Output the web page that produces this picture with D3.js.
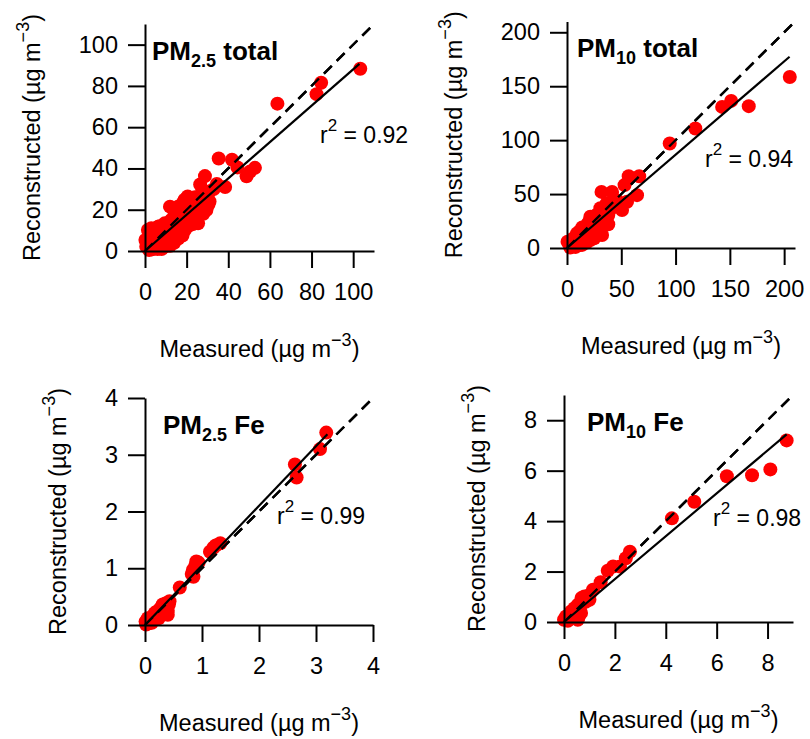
<!DOCTYPE html>
<html>
<head>
<meta charset="utf-8">
<script src="https://cdn.jsdelivr.net/npm/d3@7"></script>
<style>
	body { margin: 0; background: #fff; }
</style>
</head>
<body>
<svg id="chart" width="810" height="739"></svg>
<script>
/*
 *  Measured vs reconstructed concentrations, four scatter panels.
 */

// [measured, reconstructed] pairs
const pm25Total = [
	[103.4, 88.3], [84.6, 81.5], [82.4, 76.0], [63.6, 71.4],
	[35.4, 44.8], [41.8, 44.2], [44.4, 40.5], [52.8, 40.3], [48.8, 36.2], [50.5, 38.5],
	[28.8, 36.3], [26.5, 32.2], [34.5, 32.5], [38.5, 31.0], [31.0, 28.8],
	[20.5, 26.4], [19.0, 24.8], [28.6, 23.0], [29.5, 19.9], [27.0, 21.5],
	[15.8, 21.4], [14.2, 19.9], [22.3, 19.9], [23.9, 16.7], [17.5, 16.7],
	[12.6, 15.0], [9.5, 13.4], [6.3, 11.8], [1.4, 10.2], [3.0, 6.9], [0.2, 5.3], [0.6, 2.1],
	[9.5, 2.1], [7.8, 3.7], [15.9, 6.9], [19.1, 10.2], [25.5, 13.4], [22.3, 15.0], [12.6, 10.2],
	[11.1, 8.6], [6.3, 6.9], [4.7, 5.3], [2.0, 1.5], [3.5, 3.0], [5.0, 4.0], [6.5, 5.0],
	[8.0, 6.5], [10.0, 8.0], [11.5, 10.5], [13.5, 12.0], [16.0, 14.0], [17.0, 12.5],
	[18.5, 15.5], [20.0, 18.0], [21.5, 17.0], [24.0, 20.5], [25.5, 22.5], [26.5, 24.5],
	[10.5, 12.0], [8.5, 10.5], [4.0, 8.5], [2.5, 9.0], [1.0, 4.0], [13.0, 5.5], [11.0, 4.0],
	[6.0, 1.0], [3.5, 0.8], [14.5, 9.0], [17.5, 8.5], [20.5, 12.0], [16.5, 18.5], [18.0, 21.0],
	[23.0, 23.5], [30.5, 22.5], [29.0, 26.5], [27.0, 27.5], [21.0, 22.0], [7.0, 9.0],
	[5.5, 2.5], [9.0, 5.0], [12.0, 21.5], [14.0, 17.0], [16.0, 20.0], [18.0, 23.0], [19.0, 19.0],
	[22.0, 25.0], [24.0, 26.0], [20.0, 14.0], [23.0, 13.0], [25.0, 17.0], [28.0, 18.0],
	[26.0, 20.0], [31.0, 24.0], [33.0, 30.0], [11.0, 13.5], [9.0, 11.0], [7.0, 12.0], [5.0, 10.0],
	[3.0, 11.0], [8.0, 1.0], [12.0, 2.5], [14.0, 4.0], [16.0, 6.0], [18.0, 7.5], [4.0, 2.0], [2.0, 0.5]
];
const pm10Total = [
	[205.2, 158.6], [167.4, 131.5], [151.2, 136.4], [142.9, 130.8], [118.2, 110.8], [94.6, 96.9],
	[66.5, 66.5], [56.8, 66.5], [53.0, 58.3], [64.5, 49.0], [55.3, 42.9], [50.7, 35.2],
	[31.8, 52.0], [41.5, 52.0], [36.5, 41.4], [30.7, 36.8], [27.6, 30.6], [21.5, 29.0], [36.9, 29.0],
	[33.7, 21.3], [32.3, 12.0], [18.4, 21.3], [15.3, 16.7], [9.2, 13.6], [6.1, 9.0], [0.5, 5.8],
	[12.3, 2.8], [21.5, 7.4], [24.5, 13.6], [27.6, 16.7], [3.0, 2.5], [5.0, 4.0], [8.0, 6.0],
	[11.0, 9.0], [13.0, 11.0], [16.0, 12.0], [18.0, 14.5], [20.0, 17.0], [22.0, 19.0], [24.0, 22.0],
	[26.0, 24.0], [28.0, 26.5], [25.0, 28.0], [23.0, 25.5], [19.0, 10.5], [15.0, 6.0], [10.0, 3.5],
	[7.0, 1.5], [29.5, 19.5], [38.0, 30.5], [34.0, 33.5], [42.0, 38.0], [12.0, 15.5], [17.0, 19.5],
	[4.0, 7.0], [14.0, 19.0], [20.0, 24.0], [22.0, 27.0], [26.0, 30.0], [30.0, 32.0], [32.0, 26.0],
	[35.0, 24.0], [38.0, 22.0], [28.0, 12.0], [25.0, 9.0], [18.0, 5.0], [14.0, 3.0], [8.0, 1.0],
	[3.0, 0.5], [40.0, 36.0], [44.0, 40.0], [46.0, 44.0], [35.0, 38.0]
];
const pm25Fe = [
	[3.18, 3.39], [3.07, 3.10], [2.63, 2.83], [2.66, 2.60], [1.32, 1.44], [1.20, 1.36], [1.14, 1.29],
	[1.24, 1.40], [0.94, 1.10], [0.88, 1.04], [0.90, 1.12], [0.84, 0.97], [0.82, 0.90], [0.85, 0.85],
	[0.61, 0.66], [0.43, 0.42], [0.40, 0.25], [0.38, 0.32], [0.29, 0.32], [0.33, 0.23], [0.24, 0.12],
	[0.17, 0.21], [0.05, 0.12], [0.01, 0.06], [0.10, 0.08], [0.14, 0.15], [0.21, 0.24], [0.26, 0.28],
	[0.31, 0.36], [0.36, 0.38], [0.42, 0.36], [0.02, 0.01], [0.07, 0.03], [0.19, 0.16], [0.34, 0.30],
	[0.28, 0.20], [0.40, 0.18], [0.12, 0.04]
];
const pm10Fe = [
	[8.75, 7.20], [8.11, 6.05], [7.39, 5.82], [6.40, 5.78], [5.12, 4.77], [4.24, 4.11],
	[2.59, 2.79], [2.43, 2.53], [2.20, 2.20], [1.93, 2.20], [1.72, 2.03], [1.44, 1.58], [1.14, 1.28],
	[1.01, 1.08], [0.69, 0.95], [0.80, 1.01], [0.54, 0.68], [0.41, 0.55], [0.28, 0.42], [0.08, 0.22],
	[0.00, 0.09], [0.54, 0.09], [0.67, 0.36], [1.00, 0.88], [0.55, 0.15], [0.20, 0.15], [0.35, 0.30],
	[0.45, 0.35], [0.62, 0.55], [0.15, 0.05], [0.85, 0.80], [0.60, 0.25]
];

const panelData = [pm25Total, pm10Total, pm25Fe, pm10Fe];
const titleSize = ['2.5', '10', '2.5', '10'];
const titleSpecies = [' total', ' total', ' Fe', ' Fe'];
const rSquared = ['0.92', '0.94', '0.99', '0.98'];
const axisMax = [110, 210, 4, 9];
const tickValues = [
	[0, 20, 40, 60, 80, 100],
	[0, 50, 100, 150, 200],
	[0, 1, 2, 3, 4],
	[0, 2, 4, 6, 8]
];
// least squares line: slope and last measured value
const fitSlope = [0.88, 0.865, 1.05, 0.85];
const fitEnd = [103, 205, 3.2, 8.75];

// pixel layout of each panel (axis box, title and r² anchors)
const LAYOUT = [
	{ x0: 145, x1: 374, y0: 251, y1: 24,   title: [152, 60],  r2: [320, 143] },
	{ x0: 567, x1: 795, y0: 248, y1: 21.5, title: [577, 57],  r2: [705, 167] },
	{ x0: 145, x1: 373, y0: 625, y1: 398,  title: [163, 434], r2: [277, 524] },
	{ x0: 564, x1: 793, y0: 622, y1: 395,  title: [587, 431], r2: [713, 526] }
];

const FONT = '"Liberation Sans", Arial, Helvetica, sans-serif';
const TICK_FONT = 23.5, LABEL_FONT = 23.5, TITLE_FONT = 26, SUB_FONT = 18, R2_FONT = 23,
	TICK_LEN = 17, DOT_R = 7, AXIS_W = 2;

const svg = d3.select('#chart');

function addUnits(text) {
	// " (µg m⁻³)" with a raised exponent
	text.append('tspan').text(' (µg m');
	text.append('tspan').attr('dy', -11).attr('font-size', SUB_FONT + 'px').text('−3');
	text.append('tspan').attr('dy', 11).text(')');
}

function drawPanel(i) {
	const L = LAYOUT[i];
	const x = d3.scaleLinear().domain([0, axisMax[i]]).range([L.x0, L.x1]);
	const y = d3.scaleLinear().domain([0, axisMax[i]]).range([L.y0, L.y1]);
	const g = svg.append('g');

	const oneToOne = () => g.append('line')
		.attr('x1', x(0)).attr('y1', y(0))
		.attr('x2', x(axisMax[i])).attr('y2', y(axisMax[i]))
		.attr('stroke', '#000').attr('stroke-width', 2.4)
		.attr('stroke-dasharray', '11,7');

	oneToOne();
	g.append('g').selectAll('circle')
		.data(panelData[i])
		.enter().append('circle')
		.attr('cx', d => x(d[0]))
		.attr('cy', d => y(d[1]))
		.attr('r', DOT_R)
		.attr('fill', '#ff0000');
	// dashes show over the points too
	oneToOne();

	// regression line
	g.append('line')
		.attr('x1', x(0)).attr('y1', y(0))
		.attr('x2', x(fitEnd[i])).attr('y2', y(fitSlope[i] * fitEnd[i]))
		.attr('stroke', '#000').attr('stroke-width', 2.2);

	// axes
	const xAxis = g.append('g')
		.attr('transform', 'translate(0,' + L.y0 + ')')
		.call(d3.axisBottom(x).tickValues(tickValues[i]).tickSize(TICK_LEN)
			.tickSizeOuter(0).tickPadding(15).tickFormat(d3.format('d')));
	const yAxis = g.append('g')
		.attr('transform', 'translate(' + L.x0 + ',0)')
		.call(d3.axisLeft(y).tickValues(tickValues[i]).tickSize(TICK_LEN)
			.tickSizeOuter(0).tickPadding(10).tickFormat(d3.format('d')));

	[xAxis, yAxis].forEach(a => {
		a.attr('font-family', FONT).attr('font-size', TICK_FONT);
		a.selectAll('path, line').attr('stroke', '#000').attr('stroke-width', AXIS_W);
		a.selectAll('text').attr('fill', '#000');
	});

	// axis titles
	let maxW = 0;
	yAxis.selectAll('text').each(function() {
		maxW = Math.max(maxW, this.getComputedTextLength());
	});
	const yLabX = L.x0 - TICK_LEN - 10 - maxW - 39;
	const yMid = (L.y0 + L.y1) / 2;
	const yLab = g.append('text')
		.attr('x', yLabX).attr('y', yMid)
		.attr('transform', 'rotate(-90,' + yLabX + ',' + yMid + ')')
		.attr('text-anchor', 'middle')
		.attr('font-family', FONT).attr('font-size', LABEL_FONT + 'px')
		.text('Reconstructed');
	addUnits(yLab);

	const xLab = g.append('text')
		.attr('x', (L.x0 + L.x1) / 2).attr('y', L.y0 + 106)
		.attr('text-anchor', 'middle')
		.attr('font-family', FONT).attr('font-size', LABEL_FONT + 'px')
		.text('Measured');
	addUnits(xLab);

	// panel title
	const title = g.append('text')
		.attr('x', L.title[0]).attr('y', L.title[1])
		.attr('font-family', FONT).attr('font-weight', 'bold')
		.attr('font-size', TITLE_FONT + 'px')
		.text('PM');
	title.append('tspan').attr('dy', 7).attr('font-size', SUB_FONT + 'px').text(titleSize[i]);
	title.append('tspan').attr('dy', -7).text(titleSpecies[i]);

	// r² annotation
	const r2 = g.append('text')
		.attr('x', L.r2[0]).attr('y', L.r2[1])
		.attr('font-family', FONT).attr('font-size', R2_FONT + 'px')
		.text('r');
	r2.append('tspan').attr('dy', -12).attr('font-size', '17px').text('2');
	r2.append('tspan').attr('dy', 12).text(' = ' + rSquared[i]);
}

for (let i = 0; i < panelData.length; i++) drawPanel(i);
</script>
</body>
</html>
